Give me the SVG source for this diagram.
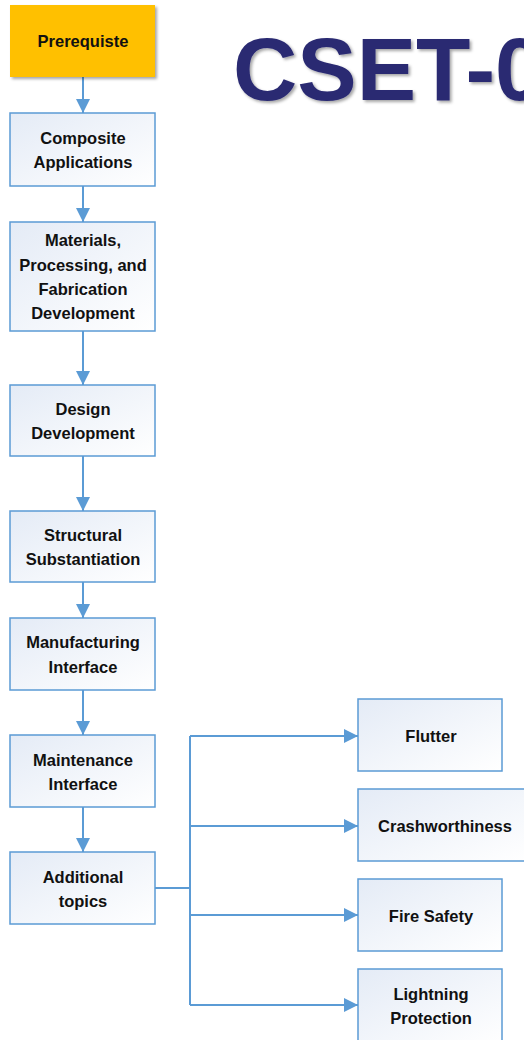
<svg xmlns="http://www.w3.org/2000/svg" width="524" height="1040" viewBox="0 0 524 1040">
<defs>
<linearGradient id="g" x1="0" y1="0" x2="1" y2="1">
<stop offset="0" stop-color="#E4EBF6"/>
<stop offset="1" stop-color="#FFFFFF"/>
</linearGradient>
<filter id="sh" x="-10%" y="-10%" width="130%" height="130%">
<feGaussianBlur in="SourceAlpha" stdDeviation="1.5"/>
<feOffset dx="2" dy="2" result="b"/>
<feFlood flood-color="#000" flood-opacity="0.35"/>
<feComposite in2="b" operator="in"/>
<feMerge><feMergeNode/><feMergeNode in="SourceGraphic"/></feMerge>
</filter>
<marker id="av" markerWidth="14" markerHeight="14" refX="14" refY="7" orient="auto" markerUnits="userSpaceOnUse" viewBox="0 0 14 14">
<path d="M0,0 L14,7 L0,14 Z" fill="#5B9BD5"/>
</marker>
</defs>
<style>
.box{fill:url(#g);stroke:#5B9BD5;stroke-width:1.5}
.pre{fill:#FFC000;stroke:none}
.t{font-family:"Liberation Sans",Arial,sans-serif;font-weight:bold;font-size:16.5px;fill:#111;text-anchor:middle}
.c{fill:none;stroke:#5B9BD5;stroke-width:2}
.title{font-family:"Liberation Sans",Arial,sans-serif;font-weight:bold;font-size:89px;fill:#2A2A72}
</style>
<text class="title" x="233" y="100" filter="url(#sh)">CSET-0</text>
<g id="connectors">
<line class="c" x1="83" y1="77" x2="83" y2="113" marker-end="url(#av)"/>
<line class="c" x1="83" y1="186" x2="83" y2="222" marker-end="url(#av)"/>
<line class="c" x1="83" y1="331" x2="83" y2="385" marker-end="url(#av)"/>
<line class="c" x1="83" y1="456" x2="83" y2="511" marker-end="url(#av)"/>
<line class="c" x1="83" y1="582" x2="83" y2="618" marker-end="url(#av)"/>
<line class="c" x1="83" y1="690" x2="83" y2="735" marker-end="url(#av)"/>
<line class="c" x1="83" y1="807" x2="83" y2="852" marker-end="url(#av)"/>
<polyline class="c" points="155,888 190,888"/>
<line class="c" x1="190" y1="736" x2="190" y2="1005"/>
<line class="c" x1="190" y1="736" x2="358" y2="736" marker-end="url(#av)"/>
<line class="c" x1="190" y1="826" x2="358" y2="826" marker-end="url(#av)"/>
<line class="c" x1="190" y1="915" x2="358" y2="915" marker-end="url(#av)"/>
<line class="c" x1="190" y1="1005" x2="358" y2="1005" marker-end="url(#av)"/>
</g>
<g id="prerequisite"><rect class="pre" x="10" y="5" width="145" height="72" filter="url(#sh)"/><text class="t" x="83" y="47">Prerequiste</text></g>
<g id="composite"><rect class="box" x="10" y="113" width="145" height="73"/><text class="t" x="83" y="144">Composite</text><text class="t" x="83" y="168">Applications</text></g>
<g id="materials"><rect class="box" x="10" y="222" width="145" height="109"/><text class="t" x="83" y="246">Materials,</text><text class="t" x="83" y="271">Processing, and</text><text class="t" x="83" y="295">Fabrication</text><text class="t" x="83" y="319">Development</text></g>
<g id="design"><rect class="box" x="10" y="385" width="145" height="71"/><text class="t" x="83" y="415">Design</text><text class="t" x="83" y="439">Development</text></g>
<g id="structural"><rect class="box" x="10" y="511" width="145" height="71"/><text class="t" x="83" y="541">Structural</text><text class="t" x="83" y="565">Substantiation</text></g>
<g id="manufacturing"><rect class="box" x="10" y="618" width="145" height="72"/><text class="t" x="83" y="648">Manufacturing</text><text class="t" x="83" y="673">Interface</text></g>
<g id="maintenance"><rect class="box" x="10" y="735" width="145" height="72"/><text class="t" x="83" y="766">Maintenance</text><text class="t" x="83" y="790">Interface</text></g>
<g id="additional"><rect class="box" x="10" y="852" width="145" height="72"/><text class="t" x="83" y="883">Additional</text><text class="t" x="83" y="907">topics</text></g>
<g id="flutter"><rect class="box" x="358" y="699" width="144" height="72"/><text class="t" x="431" y="742">Flutter</text></g>
<g id="crashworthiness"><rect class="box" x="358" y="789" width="168" height="72"/><text class="t" x="445" y="832">Crashworthiness</text></g>
<g id="fire"><rect class="box" x="358" y="879" width="144" height="72"/><text class="t" x="431" y="922">Fire Safety</text></g>
<g id="lightning"><rect class="box" x="358" y="969" width="144" height="75"/><text class="t" x="431" y="1000">Lightning</text><text class="t" x="431" y="1024">Protection</text></g>
</svg>
